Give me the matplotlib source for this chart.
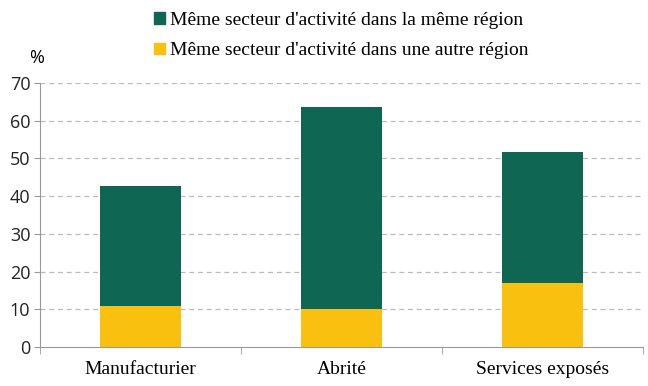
import numpy as np
import matplotlib.pyplot as plt
from matplotlib.patches import Patch

# Data
categories = ['Manufacturier', 'Abrité', 'Services exposés']
autre_region = [11.0, 10.0, 17.0]      # Même secteur d'activité dans une autre région
meme_region = [31.7, 53.7, 34.7]       # Même secteur d'activité dans la même région
yticks = [0, 10, 20, 30, 40, 50, 60, 70]

green = '#0f6652'
yellow = '#f9c00f'
serif = ['Liberation Serif', 'DejaVu Serif']
sans = ['Open Sans', 'DejaVu Sans']

fig = plt.figure(figsize=(6.48, 3.86), dpi=100)
ax = fig.add_axes([40 / 648, 1 - 347 / 386, 603 / 648, (347 - 83) / 386])

x = np.arange(len(categories))
ax.bar(x, autre_region, width=0.4, color=yellow, zorder=3)
ax.bar(x, meme_region, width=0.4, bottom=autre_region, color=green, zorder=3)

ax.set_xlim(-0.5, 2.5)
ax.set_ylim(0, 70)
ax.set_yticks(yticks)
ax.set_yticklabels([str(v) for v in yticks], fontsize=13, family=sans, color='#222222')
ax.set_xticks(x)
ax.set_xticklabels(categories, fontsize=14, family=serif)
ax.set_xticks([-0.5, 0.5, 1.5, 2.5], minor=True)
ax.tick_params(axis='x', which='major', length=0, pad=10)
ax.tick_params(axis='x', which='minor', length=5, color='#999999')
ax.tick_params(axis='y', length=4, color='#999999', pad=3)

for v in yticks[1:]:
    ax.axhline(v, color='#bbbbbb', linestyle=(0, (4, 3)), linewidth=0.9, zorder=1)

for s in ['top', 'right']:
    ax.spines[s].set_visible(False)
for s in ['left', 'bottom']:
    ax.spines[s].set_color('#999999')

fig.text(37 / 648, 1 - 58 / 386, '%', fontsize=13, family=sans, ha='center', va='center')

handles = [Patch(color=green), Patch(color=yellow)]
labels = ["Même secteur d'activité dans la même région",
          "Même secteur d'activité dans une autre région"]
fig.legend(handles, labels, loc='upper center', bbox_to_anchor=(341 / 648, 1.005),
           frameon=False, prop={'family': serif, 'size': 14}, borderpad=0.2,
           handlelength=0.55, handleheight=0.55, handletextpad=0.25, labelspacing=0.7)

fig.savefig('out.png', dpi=100)
